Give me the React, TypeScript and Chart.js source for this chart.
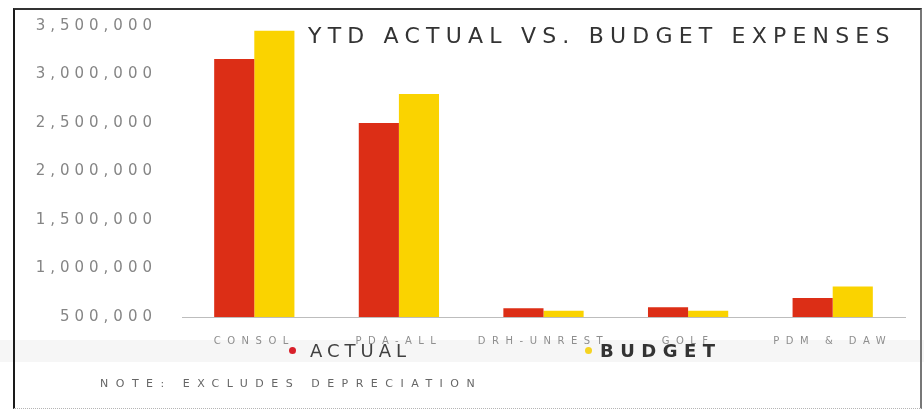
import React, { useEffect, useRef } from "react";
import { Chart, registerables } from "chart.js";

Chart.register(...registerables);

const categories = ["CONSOL", "PDA-ALL", "DRH-UNREST", "GOLF", "PDM & DAW"];
const actualValues = [3160000, 2500000, 590000, 600000, 695000];
const budgetValues = [3450000, 2800000, 565000, 565000, 815000];
const seriesNames = ["ACTUAL", "BUDGET"];
const yMin = 500000;
const yMax = 3500000;
const yStep = 500000;
const titleText = "YTD ACTUAL VS. BUDGET EXPENSES";
const noteText = "NOTE: EXCLUDES DEPRECIATION";

const actualColor = "#dc2e16";
const budgetColor = "#fad300";

const spacingPlugin = {
  id: "labelSpacing",
  afterLayout(chart: any) {
    const spacing: Record<string, string> = { x: "6.5px", y: "5px" };
    for (const id of ["x", "y"]) {
      const s: any = chart.scales[id];
      if (!s || s.__patched) continue;
      const orig = s.drawLabels.bind(s);
      s.drawLabels = (area: any) => {
        const ctx: any = chart.ctx;
        ctx.save();
        ctx.letterSpacing = spacing[id];
        orig(area);
        ctx.restore();
      };
      s.__patched = true;
    }
  },
};

export default function App() {
  const canvasRef = useRef<HTMLCanvasElement | null>(null);

  useEffect(() => {
    if (!canvasRef.current) return;
    const chart = new Chart(canvasRef.current, {
      type: "bar",
      data: {
        labels: categories,
        datasets: [
          {
            label: seriesNames[0],
            data: actualValues,
            backgroundColor: actualColor,
            borderWidth: 0,
            categoryPercentage: 0.555,
            barPercentage: 1,
          },
          {
            label: seriesNames[1],
            data: budgetValues,
            backgroundColor: budgetColor,
            borderWidth: 0,
            categoryPercentage: 0.555,
            barPercentage: 1,
          },
        ],
      },
      options: {
        animation: false,
        responsive: false,
        devicePixelRatio: 1,
        layout: { padding: { left: 14, right: 19, top: 25, bottom: 0 } },
        plugins: {
          legend: { display: false },
          title: { display: false },
          tooltip: { enabled: false },
        },
        scales: {
          y: {
            min: yMin,
            max: yMax,
            grid: { display: false },
            border: { display: false },
            ticks: {
              stepSize: yStep,
              padding: 17,
              color: "#858585",
              font: { family: "DejaVu Sans", size: 15 },
              callback: (v: any) => Number(v).toLocaleString("en-US"),
            },
            afterFit: (s: any) => {
              s.width = 168;
            },
          },
          x: {
            grid: { display: false },
            border: { display: true, color: "#bdbdbd", width: 1 },
            ticks: {
              padding: 10,
              color: "#8e8e8e",
              font: { family: "DejaVu Sans", size: 10 },
              maxRotation: 0,
              autoSkip: false,
            },
            afterFit: (s: any) => {
              s.height = 95;
            },
          },
        },
      },
      plugins: [spacingPlugin],
    });
    return () => chart.destroy();
  }, []);

  const dot = (left: number, top: number, color: string, size: number) => (
    <div
      style={{
        position: "absolute",
        left,
        top,
        width: size,
        height: size,
        borderRadius: "50%",
        background: color,
      }}
    />
  );

  return (
    <div
      style={{
        position: "fixed",
        left: 0,
        top: 0,
        width: 924,
        height: 412,
        background: "#ffffff",
        overflow: "hidden",
      }}
    >
      <div
        style={{
          position: "absolute",
          left: 0,
          top: 340,
          width: 924,
          height: 22,
          background: "#f6f6f6",
        }}
      />
      <canvas
        ref={canvasRef}
        width={924}
        height={412}
        style={{ position: "absolute", left: 0, top: 0, display: "block" }}
      />
      <div
        style={{
          position: "absolute",
          left: 13,
          top: 8,
          width: 905,
          height: 398,
          borderLeft: "2px solid #1a1a1a",
          borderTop: "2px solid #333333",
          borderRight: "2px solid #777777",
          borderBottom: "1px dotted #b5b5b5",
          pointerEvents: "none",
        }}
      />
      <div
        style={{
          position: "absolute",
          left: 308,
          top: 25,
          fontFamily: "DejaVu Sans",
          fontSize: 22,
          lineHeight: "22px",
          letterSpacing: "6.2px",
          color: "#333333",
          whiteSpace: "nowrap",
        }}
      >
        {titleText}
      </div>
      {dot(289, 347, "#d8202a", 7)}
      <div
        style={{
          position: "absolute",
          left: 310,
          top: 342,
          fontFamily: "DejaVu Sans",
          fontSize: 18,
          lineHeight: "18px",
          letterSpacing: "5px",
          color: "#404040",
          whiteSpace: "nowrap",
        }}
      >
        {seriesNames[0]}
      </div>
      {dot(585, 347, "#f5d321", 7)}
      <div
        style={{
          position: "absolute",
          left: 600,
          top: 342,
          fontFamily: "DejaVu Sans",
          fontWeight: "bold",
          fontSize: 18,
          lineHeight: "18px",
          letterSpacing: "6.5px",
          color: "#333333",
          whiteSpace: "nowrap",
        }}
      >
        {seriesNames[1]}
      </div>
      <div
        style={{
          position: "absolute",
          left: 100,
          top: 378,
          fontFamily: "DejaVu Sans",
          fontSize: 11,
          lineHeight: "11px",
          letterSpacing: "7.5px",
          color: "#666666",
          whiteSpace: "nowrap",
        }}
      >
        {noteText}
      </div>
    </div>
  );
}
